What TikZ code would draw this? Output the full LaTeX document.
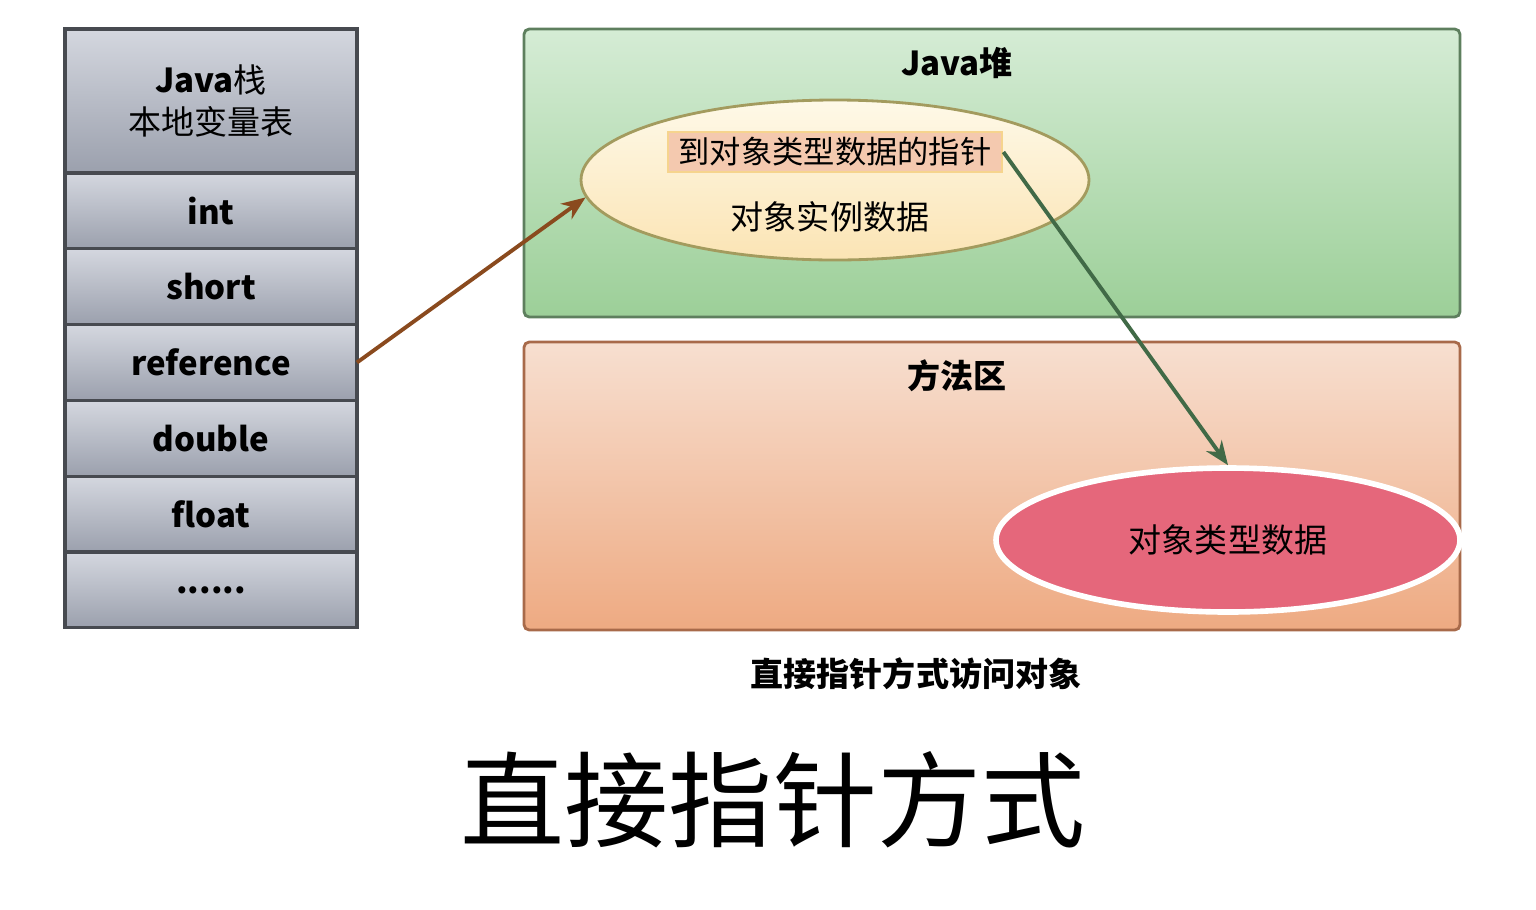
\documentclass[tikz,border=0pt]{standalone}
\usepackage{fontspec}
\setmainfont{Noto Sans CJK SC}
\usepackage{tikz}
\usetikzlibrary{arrows.meta,positioning,shapes.geometric}

\definecolor{celltop}{HTML}{D4D7DF}
\definecolor{cellbot}{HTML}{9BA0AD}
\definecolor{cellline}{HTML}{474A50}
\definecolor{heaptop}{HTML}{D5ECD5}
\definecolor{heapbot}{HTML}{9CCF98}
\definecolor{heapline}{HTML}{5E7F5E}
\definecolor{methtop}{HTML}{F7DFD0}
\definecolor{methbot}{HTML}{EEAA82}
\definecolor{methline}{HTML}{A86A4A}
\definecolor{insttop}{HTML}{FEF9E8}
\definecolor{instbot}{HTML}{FBE4B4}
\definecolor{instline}{HTML}{A39B5E}
\definecolor{ptrfill}{HTML}{F4C9AF}
\definecolor{ptrline}{HTML}{F6D48E}
\definecolor{typefill}{HTML}{E5677B}
\definecolor{refarrow}{HTML}{8A4A1E}
\definecolor{ptrarrow}{HTML}{416A47}

\newcommand{\txtsize}{\fontsize{9.4}{12}\selectfont}

\begin{document}
\begin{tikzpicture}[>={Stealth[length=2.4mm,width=1.9mm]},
    cell/.style={draw=cellline, line width=0.9pt, outer sep=0pt, top color=celltop, bottom color=cellbot,
        minimum width=2.92cm, minimum height=0.758cm, inner sep=0pt, font=\bfseries\txtsize},
    areabox/.style={rounded corners=1.5pt, line width=0.8pt, minimum width=9.36cm, minimum height=2.88cm},
    areatitle/.style={font=\bfseries\txtsize}]
        \useasboundingbox (0,0) rectangle (15.36,-9.09);

        % Java stack, local variables
        \node[cell, minimum height=1.44cm, align=center, font=\txtsize] (hdr) at (2.11,-1.01)
            {\textbf{Java}栈\\本地变量表};
        \node[cell, below=0pt of hdr] (int) {int};
        \node[cell, below=0pt of int] (short) {short};
        \node[cell, below=0pt of short] (reference) {reference};
        \node[cell, below=0pt of reference] (double) {double};
        \node[cell, below=0pt of double] (float) {float};
        \node[cell, below=0pt of float] (more) {......};

        % heap and method area
        \node[areabox, draw=heapline, top color=heaptop, bottom color=heapbot] (heap) at (9.92,-1.73) {};
        \node[areatitle] (heaptitle) at (9.57,-0.63) {Java堆};
        \node[areabox, draw=methline, top color=methtop, bottom color=methbot] (method) at (9.92,-4.86) {};
        \node[areatitle] (methtitle) at (9.57,-3.76) {方法区};

        \node[ellipse, draw=instline, line width=0.8pt, top color=insttop, bottom color=instbot,
            minimum width=5.08cm, minimum height=1.60cm] (inst) at (8.35,-1.80) {};
        \node[draw=ptrline, fill=ptrfill, line width=0.8pt, inner sep=0pt, minimum width=3.34cm,
            minimum height=0.40cm, font=\fontsize{8.9}{11}\selectfont] (ptr) at (8.35,-1.52) {到对象类型数据的指针};
        \node[font=\txtsize] (instdata) at (8.30,-2.17) {对象实例数据};

        \node[ellipse, draw=white, line width=1.6pt, fill=typefill, minimum width=4.64cm,
            minimum height=1.44cm, font=\txtsize] (typedata) at (12.28,-5.40) {对象类型数据};

        \draw[->, refarrow, line width=1.1pt] (reference.east) -- (inst.184);
        \draw[->, ptrarrow, line width=1.1pt] (ptr.east) -- (typedata.north);

        \node[font=\bfseries\txtsize] (caption) at (9.16,-6.74) {直接指针方式访问对象};
        \node[font=\fontsize{29.6}{34}\selectfont] (title) at (7.73,-8.00) {直接指针方式};
    \end{tikzpicture}
\end{document}
